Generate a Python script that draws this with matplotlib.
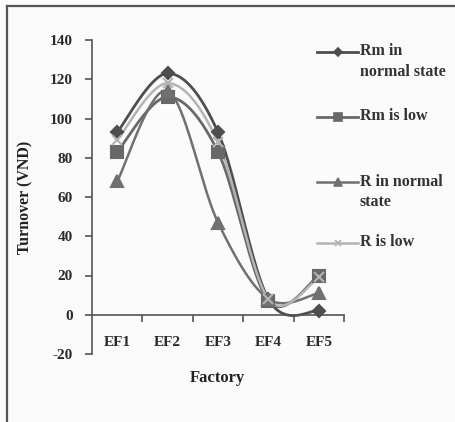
import numpy as np
import matplotlib
matplotlib.use("Agg")
import matplotlib.pyplot as plt
from matplotlib.lines import Line2D
from matplotlib.transforms import blended_transform_factory

# Turnover per factory for each scenario
factories = ["EF1", "EF2", "EF3", "EF4", "EF5"]
rm_normal = [93, 123, 93, 8, 2]
rm_low = [83, 111, 83, 7, 20]
r_normal = [68, 114, 47, 8, 11]
r_low = [89, 118, 88, 8, 19]

series_labels = ["Rm in\nnormal state", "Rm is low", "R in normal\nstate", "R is low"]
y_ticks = [-20, 0, 20, 40, 60, 80, 100, 120, 140]

SERIF = ["Liberation Serif", "DejaVu Serif"]
W, H = 455, 422


def smooth(xs, ys, steps=40):
    """Excel-style smoothed line: cubic Bezier with Catmull-Rom control points."""
    pts = np.column_stack([xs, ys]).astype(float)
    padded = np.vstack([pts[0], pts, pts[-1]])
    out = []
    t = np.linspace(0, 1, steps)[:, None]
    for i in range(len(pts) - 1):
        p0, p3 = padded[i + 1], padded[i + 2]
        p1 = p0 + (padded[i + 2] - padded[i]) / 6
        p2 = p3 - (padded[i + 3] - padded[i + 1]) / 6
        seg = ((1 - t) ** 3) * p0 + 3 * ((1 - t) ** 2) * t * p1 \
            + 3 * (1 - t) * t ** 2 * p2 + t ** 3 * p3
        out.append(seg if i == 0 else seg[1:])
    out = np.vstack(out)
    return out[:, 0], out[:, 1]


fig = plt.figure(figsize=(W / 100, H / 100), dpi=100, facecolor="#fbfbfb")
ax = fig.add_axes([92 / W, 1 - 354 / H, (344 - 92) / W, (354 - 40) / H])
ax.set_facecolor("none")

styles = [
    (rm_normal, "#4e4e4e", "D", 6.5, 2.0),
    (rm_low, "#686868", "s", 8.5, 2.0),
    (r_normal, "#707070", "^", 8.5, 1.8),
    (r_low, "#b4b4b4", "x", 7, 1.8),
]

x = np.arange(len(factories))
draw_order = [3, 2, 1, 0]
for k in draw_order:
    vals, color, marker, ms, lw = styles[k]
    sx, sy = smooth(x, vals)
    ax.plot(sx, sy, color=color, lw=lw, zorder=2 + k * 0.1, solid_capstyle="round")
    ax.plot(x, vals, ls="none", marker=marker, ms=ms, color=color,
            mec=color, mew=1.5, zorder=3 + k * 0.1)

ax.set_xlim(-0.5, len(factories) - 0.5)
ax.set_ylim(-20, 140)
ax.set_yticks(y_ticks)
ax.set_yticklabels([str(v) for v in y_ticks], fontfamily=SERIF, fontsize=11,
                   fontweight="bold")
ax.tick_params(axis="y", direction="out", length=5, width=1.2, pad=9,
               color="#555555", labelcolor="#2a2a2a")

ax.spines["top"].set_visible(False)
ax.spines["right"].set_visible(False)
ax.spines["left"].set_color("#555555")
ax.spines["left"].set_linewidth(1.2)
ax.spines["bottom"].set_position(("data", 0))
ax.spines["bottom"].set_color("#555555")
ax.spines["bottom"].set_linewidth(1.2)
ax.set_xticks(np.arange(len(factories)) + 0.5)
ax.set_xticklabels([])
ax.tick_params(axis="x", direction="out", length=5, width=1.2, color="#555555")

trans = blended_transform_factory(ax.transData, fig.transFigure)
for i, name in enumerate(factories):
    ax.text(i, 1 - 342 / H, name, transform=trans, ha="center", va="center",
            fontfamily=SERIF, fontsize=11, fontweight="bold", color="#2a2a2a")

fig.text(217 / W, 1 - 378 / H, "Factory", ha="center", va="center",
         fontfamily=SERIF, fontsize=12, fontweight="bold", color="#222222")
fig.text(25 / W, 1 - 197 / H, "Turnover (VND)", ha="center", va="center",
         rotation=90, fontfamily=SERIF, fontsize=11.5, fontweight="bold",
         color="#222222")

# legend on the right, handle aligned to the first text line
legend_y = [52, 117, 182, 243]
for k, (label, ly) in enumerate(zip(series_labels, legend_y)):
    _, color, marker, ms, lw = styles[k]
    yy = 1 - ly / H
    fig.add_artist(Line2D([317 / W, 358 / W], [yy, yy], color=color, lw=lw))
    fig.add_artist(Line2D([337.5 / W], [yy], marker=marker, ms=ms * 0.7,
                          color=color, mec=color, mew=1.2, ls="none"))
    fig.text(360 / W, yy + 8.5 / H, label, ha="left", va="top",
             fontfamily=SERIF, fontsize=11.5, fontweight="bold",
             color="#333333", linespacing=1.35)

# outer frame
fig.add_artist(Line2D([7 / W, 7 / W], [0, 1 - 6 / H], color="#555555", lw=1.6))
fig.add_artist(Line2D([7 / W, 1], [1 - 6 / H, 1 - 6 / H], color="#555555", lw=1.6))

fig.savefig("out.png", dpi=100, facecolor=fig.get_facecolor())
